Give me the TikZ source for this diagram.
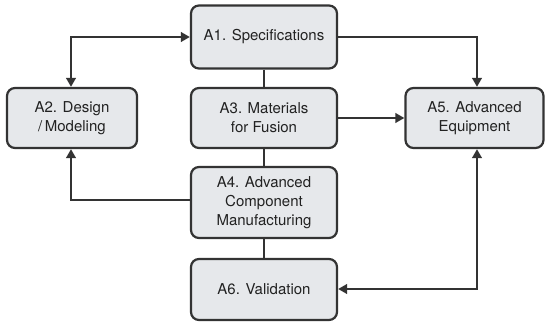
\documentclass[tikz,border=0pt]{standalone}
\usepackage{fontspec}
\setmainfont{TeX Gyre Heros}
\usetikzlibrary{arrows.meta}
\definecolor{boxfill}{HTML}{E6E8EB}
\definecolor{boxline}{HTML}{333333}
\definecolor{txt}{HTML}{222222}
\begin{document}
\begin{tikzpicture}[x=1pt,y=-1pt,
  box/.style={draw=boxline,fill=boxfill,line width=2.2pt,rounded corners=8pt,
    inner sep=0pt,align=center,text=txt,font=\fontsize{15}{19}\selectfont},
  conn/.style={draw=boxline,line width=2.8pt},
  arr/.style={conn,-{Triangle[length=9pt,width=9.5pt]}},
  arrboth/.style={conn,{Triangle[length=9pt,width=9.5pt]}-{Triangle[length=9pt,width=9.5pt]}}]
\useasboundingbox (0,0) rectangle (550,326);
\node[box,minimum width=146pt,minimum height=63pt] (a1) at (264,37) {A1. Specifications};
\node[box,minimum width=130pt,minimum height=60pt] (a2) at (72,118) {A2. Design\\/\,Modeling};
\node[box,minimum width=146pt,minimum height=60pt] (a3) at (264,118) {A3. Materials\\for Fusion};
\node[box,minimum width=138pt,minimum height=60pt] (a5) at (474.5,118) {A5. Advanced\\Equipment};
\node[box,minimum width=146pt,minimum height=71pt] (a4) at (264,202.5) {A4. Advanced\\Component\\Manufacturing};
\node[box,minimum width=146pt,minimum height=61pt] (a6) at (264,289.5) {A6. Validation};
\coordinate (c12) at (71,37);
\coordinate (c15) at (477,37);
\coordinate (c42) at (71,200);
\coordinate (c56) at (477,289);
% plain links
\draw[conn] (a1.south) -- (a3.north);
\draw[conn] (a3.south) -- (a4.north);
\draw[conn] (a4.south) -- (a6.north);
% arrows
\draw[arrboth] (a2.north -| c12) -- (c12) -- (a1.west |- c12);
\draw[arr] (a1.east |- c15) -- (c15) -- (a5.north -| c15);
\draw[arr] (a3.east) -- (a5.west);
\draw[arr] (a4.west |- c42) -- (c42) -- (a2.south -| c42);
\draw[arrboth] (a5.south -| c56) -- (c56) -- (a6.east |- c56);
\end{tikzpicture}
\end{document}
